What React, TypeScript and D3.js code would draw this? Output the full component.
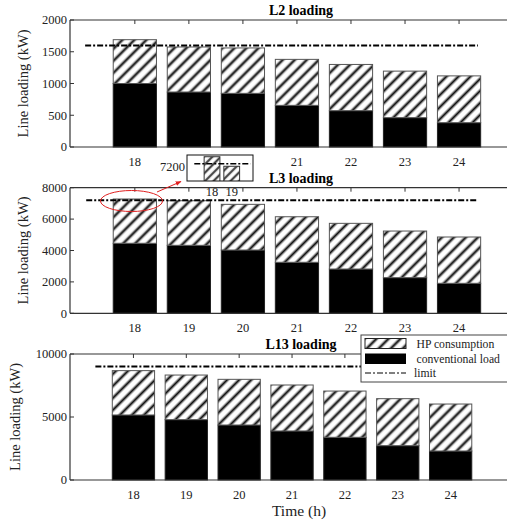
import React from "react";
import * as d3 from "d3";

const hours = [18, 19, 20, 21, 22, 23, 24];

const l2Conv = [1000, 866, 845, 656, 572, 462, 383];
const l2HP = [690, 709, 715, 724, 728, 733, 737];
const l2Limit = 1600;

const l3Conv = [4460, 4330, 4030, 3250, 2820, 2270, 1910];
const l3HP = [2820, 2840, 2910, 2900, 2910, 2970, 2950];
const l3Limit = 7200;

const l13Conv = [5160, 4790, 4365, 3890, 3390, 2725, 2300];
const l13HP = [3520, 3540, 3625, 3650, 3670, 3730, 3730];
const l13Limit = 9000;

const l2Ticks = [0, 500, 1000, 1500, 2000];
const l3Ticks = [0, 2000, 4000, 6000, 8000];
const l13Ticks = [0, 5000, 10000];

// L2's 19 and 20 labels sit under the zoom inset in the reference
const l2VisibleLabels = [18, 21, 22, 23, 24];

const insetHours = [18, 19];
const insetTicks = [7200];

const legendLabels = ["HP consumption", "conventional load", "limit"];
const xAxisTitle = "Time (h)";
const yAxisTitle = "Line loading (kW)";

const FONT = "Liberation Serif, serif";
const AX = "#333";
const DASH = "6,2,2,2";

type PanelCfg = {
  title: string;
  conv: number[];
  hp: number[];
  limit: number;
  ticks: number[];
  yMax: number;
  top: number;
  bottom: number;
  right: number;
  limitSpan: [number, number];
  yLabelX: number;
  tickLabels: number[];
};

const panels: PanelCfg[] = [
  { title: "L2 loading", conv: l2Conv, hp: l2HP, limit: l2Limit, ticks: l2Ticks, yMax: 2000, top: 20, bottom: 147, right: 532, limitSpan: [17.08, 24.35], yLabelX: 28, tickLabels: l2VisibleLabels },
  { title: "L3 loading", conv: l3Conv, hp: l3HP, limit: l3Limit, ticks: l3Ticks, yMax: 8000, top: 187.7, bottom: 313.3, right: 532, limitSpan: [17.1, 24.35], yLabelX: 28, tickLabels: hours },
  { title: "L13 loading", conv: l13Conv, hp: l13HP, limit: l13Limit, ticks: l13Ticks, yMax: 10000, top: 354, bottom: 480, right: 522, limitSpan: [17.28, 24.5], yLabelX: 20, tickLabels: hours },
];

const LEFT = 70;
const TITLE_X = 301;

function Panel({ cfg }: { cfg: PanelCfg }) {
  const x = d3.scaleLinear().domain([16.8, 25.35]).range([LEFT, cfg.right]);
  const y = d3.scaleLinear().domain([0, cfg.yMax]).range([cfg.bottom, cfg.top]);
  const step = x(19) - x(18);
  const bw = step * 0.8;
  const stack = d3.stack<number>().keys(["conv", "hp"]).value((i, k) => (k === "conv" ? cfg.conv[i] : cfg.hp[i]));
  const series = stack(hours.map((_, i) => i));
  return (
    <g>
      {hours.map((h) => (
        <g key={h}>
          <line x1={x(h)} x2={x(h)} y1={cfg.bottom} y2={cfg.bottom - 4} stroke={AX} />
          <line x1={x(h)} x2={x(h)} y1={cfg.top} y2={cfg.top + 4} stroke={AX} />
        </g>
      ))}
      {cfg.ticks.map((t) => (
        <line key={t} x1={LEFT} x2={LEFT + 4} y1={y(t)} y2={y(t)} stroke={AX} />
      ))}
      {series[0].map((d, i) => (
        <rect key={"c" + i} x={x(hours[i]) - bw / 2} width={bw} y={y(d[1])} height={y(d[0]) - y(d[1])} fill="#000" stroke="#222" strokeWidth={1} />
      ))}
      {series[1].map((d, i) => (
        <g key={"h" + i}>
          <rect x={x(hours[i]) - bw / 2} width={bw} y={y(d[1])} height={y(d[0]) - y(d[1])} fill="#fff" />
          <rect x={x(hours[i]) - bw / 2} width={bw} y={y(d[1])} height={y(d[0]) - y(d[1])} fill="url(#hatch)" stroke="#555" strokeWidth={1} />
        </g>
      ))}
      <line x1={x(cfg.limitSpan[0])} x2={x(cfg.limitSpan[1])} y1={y(cfg.limit)} y2={y(cfg.limit)} stroke="#000" strokeWidth={2} strokeDasharray={DASH} />
      <line x1={LEFT} x2={cfg.right} y1={cfg.bottom} y2={cfg.bottom} stroke={AX} strokeWidth={1.2} />
      <line x1={LEFT} x2={cfg.right} y1={cfg.top} y2={cfg.top} stroke={AX} strokeWidth={1.2} />
      <line x1={LEFT} x2={LEFT} y1={cfg.top} y2={cfg.bottom} stroke={AX} strokeWidth={1.2} />
      {cfg.ticks.map((t) => (
        <text key={t} x={LEFT - 3} y={y(t)} dy="0.35em" textAnchor="end" fontSize={12.5} fontFamily={FONT} fill="#222">
          {t}
        </text>
      ))}
      {cfg.tickLabels.map((h) => (
        <text key={h} x={x(h)} y={cfg.bottom + 19} textAnchor="middle" fontSize={12.5} fontFamily={FONT} fill="#222">
          {h}
        </text>
      ))}
      <text x={TITLE_X} y={cfg.top - 5} textAnchor="middle" fontSize={14} fontWeight="bold" fontFamily={FONT} fill="#000">
        {cfg.title}
      </text>
      <text transform={`translate(${cfg.yLabelX},${(cfg.top + cfg.bottom) / 2}) rotate(-90)`} textAnchor="middle" fontSize={14.5} fontFamily={FONT} fill="#222">
        {yAxisTitle}
      </text>
    </g>
  );
}

function Inset() {
  const x = d3.scaleLinear().domain([16.73, 20.08]).range([187, 253]);
  const y = d3.scaleLinear().domain([7000, 7300]).range([181, 155]);
  const bw = (x(19) - x(18)) * 0.8;
  return (
    <g>
      <defs>
        <clipPath id="insetClip">
          <rect x={187} y={155} width={66} height={26} />
        </clipPath>
      </defs>
      <rect x={187} y={155} width={66} height={26} fill="#fff" />
      <g clipPath="url(#insetClip)">
        {insetHours.map((h, i) => (
          <g key={h}>
            <rect x={x(h) - bw / 2} width={bw} y={y(l3Conv[i] + l3HP[i])} height={181 - y(l3Conv[i] + l3HP[i]) + 2} fill="#fff" />
            <rect x={x(h) - bw / 2} width={bw} y={y(l3Conv[i] + l3HP[i])} height={181 - y(l3Conv[i] + l3HP[i]) + 2} fill="url(#hatchSmall)" stroke="#333" strokeWidth={1} />
          </g>
        ))}
        <line x1={x(17.1)} x2={x(19.95)} y1={y(l3Limit)} y2={y(l3Limit)} stroke="#000" strokeWidth={1.5} strokeDasharray={DASH} />
      </g>
      <rect x={187} y={155} width={66} height={26} fill="none" stroke="#111" strokeWidth={1} />
      {insetTicks.map((t) => (
        <text key={t} x={185} y={y(t) + 3} dy="0.35em" textAnchor="end" fontSize={12.5} fontFamily={FONT} fill="#222">
          {t}
        </text>
      ))}
      {insetHours.map((h) => (
        <text key={h} x={x(h)} y={196} textAnchor="middle" fontSize={12.5} fontFamily={FONT} fill="#222">
          {h}
        </text>
      ))}
    </g>
  );
}

function Legend() {
  return (
    <g>
      <rect x={361} y={335} width={170} height={47} fill="#fff" stroke="#444" strokeWidth={1} />
      <rect x={365} y={338.5} width={41} height={10} fill="#fff" />
      <rect x={365} y={338.5} width={41} height={10} fill="url(#hatch)" stroke="#222" strokeWidth={1} />
      <rect x={365} y={353.5} width={41} height={10.5} fill="#000" />
      <line x1={365} x2={406} y1={373} y2={373} stroke="#000" strokeWidth={1} strokeDasharray={DASH} />
      {legendLabels.map((l, i) => (
        <text key={l} x={i === 2 ? 414 : 416.5} y={344 + i * 14.5} dy="0.35em" fontSize={11.7} fontFamily={FONT} fill="#222">
          {l}
        </text>
      ))}
    </g>
  );
}

export default function App() {
  return (
    <svg width={507} height={523} style={{ position: "absolute", left: 0, top: 0, background: "#fff" }}>
      <defs>
        <pattern id="hatch" patternUnits="userSpaceOnUse" width={8.5} height={8.5} patternTransform="rotate(-45)">
          <line x1={-1} x2={10} y1={4.25} y2={4.25} stroke="#999" strokeWidth={3.6} />
          <line x1={-1} x2={10} y1={4.25} y2={4.25} stroke="#111" strokeWidth={1.6} />
        </pattern>
        <pattern id="hatchSmall" patternUnits="userSpaceOnUse" width={6} height={6} patternTransform="rotate(-45)">
          <line x1={-1} x2={8} y1={3} y2={3} stroke="#999" strokeWidth={2.6} />
          <line x1={-1} x2={8} y1={3} y2={3} stroke="#111" strokeWidth={1.2} />
        </pattern>
        <marker id="arrow" viewBox="0 0 10 10" refX={9} refY={5} markerWidth={6} markerHeight={6} orient="auto">
          <path d="M0,1 L10,5 L0,9 z" fill="#e02020" />
        </marker>
      </defs>
      <rect width={507} height={523} fill="#fff" />
      {panels.map((p) => (
        <Panel key={p.title} cfg={p} />
      ))}
      <Inset />
      <ellipse cx={131.5} cy={201} rx={31} ry={10.5} fill="none" stroke="#e02020" strokeWidth={1} />
      <line x1={157} y1={192} x2={181} y2={181.5} stroke="#e02020" strokeWidth={1} markerEnd="url(#arrow)" />
      <Legend />
      <text x={299} y={516} textAnchor="middle" fontSize={15.5} fontFamily={FONT} fill="#222">
        {xAxisTitle}
      </text>
    </svg>
  );
}
